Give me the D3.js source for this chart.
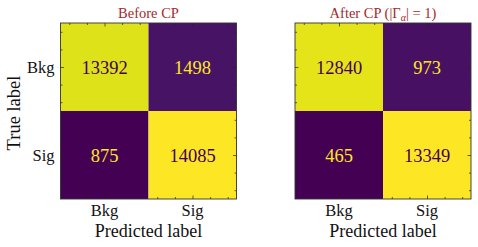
<!DOCTYPE html>
<html>
<head>
<meta charset="utf-8">
<script src="https://cdn.jsdelivr.net/npm/d3@7"></script>
<style>
  body { margin: 0; background: #fff; }
</style>
</head>
<body>
<svg id="fig" width="478" height="247"></svg>
<script>
// confusion matrices, rows = true label, cols = predicted label
const classes = ["Bkg", "Sig"];
const beforeCP = [[13392, 1498], [875, 14085]];
const afterCP = [[12840, 973], [465, 13349]];
const majorTicks = [0, 1];
const minorTicks = [-0.4, -0.2, 0.2, 0.4, 0.6, 0.8, 1.2, 1.4];
const serif = "Liberation Serif";

const Fig = d3.select("#fig");

function confusion_plot(matrix, x0, title, showY) {
    const size = 176, top = 23;
    const xScale = d3.scaleLinear().domain([-0.5, 1.5]).range([x0, x0 + size]);
    const yScale = d3.scaleLinear().domain([-0.5, 1.5]).range([top, top + size]);

    const flat = matrix.flatMap((row, i) => row.map((v, j) => ({ i, j, v })));
    const vmin = d3.min(flat, d => d.v), vmax = d3.max(flat, d => d.v);
    const color = d3.scaleSequential(d3.interpolateViridis).domain([vmin, vmax]);
    const thresh = (vmin + vmax) / 2;

    const g = Fig.append("g");

    // cells
    g.selectAll(".cell")
        .data(flat)
        .join("rect")
        .attr("x", d => xScale(d.j - 0.5))
        .attr("y", d => yScale(d.i - 0.5))
        .attr("width", xScale(1) - xScale(0))
        .attr("height", yScale(1) - yScale(0))
        .attr("fill", d => color(d.v));

    // counts
    g.selectAll(".count")
        .data(flat)
        .join("text")
        .attr("x", d => xScale(d.j))
        .attr("y", d => yScale(d.i) + 6.5)
        .attr("text-anchor", "middle")
        .style("font-family", serif)
        .style("font-size", "18.5px")
        .attr("fill", d => d.v < thresh ? color(vmax) : color(vmin))
        .text(d => d.v);

    // inward ticks on all four sides
    const axes = [
        [d3.axisBottom(xScale), `translate(0,${top + size})`],
        [d3.axisTop(xScale), `translate(0,${top})`],
        [d3.axisLeft(yScale), `translate(${x0},0)`],
        [d3.axisRight(yScale), `translate(${x0 + size},0)`]
    ];
    axes.forEach(([ax, tr]) => {
        g.append("g").attr("transform", tr)
            .call(ax.tickValues(minorTicks).tickSize(-2).tickFormat(""))
            .call(s => s.select(".domain").remove());
        g.append("g").attr("transform", tr)
            .call(ax.tickValues(majorTicks).tickSize(-3.5).tickFormat(""))
            .call(s => s.select(".domain").remove());
    });
    g.selectAll(".tick line").attr("stroke", "#222").attr("stroke-width", 0.7);

    // frame
    g.append("rect")
        .attr("x", x0).attr("y", top)
        .attr("width", size).attr("height", size)
        .attr("fill", "none").attr("stroke", "#333").attr("stroke-width", 0.9);

    // tick labels
    g.selectAll(".xlab")
        .data(classes)
        .join("text")
        .attr("x", (d, i) => xScale(i))
        .attr("y", top + size + 16.5)
        .attr("text-anchor", "middle")
        .style("font-family", serif)
        .style("font-size", "16.5px")
        .attr("fill", "#111")
        .text(d => d);

    if (showY) {
        g.selectAll(".ylab")
            .data(classes)
            .join("text")
            .attr("x", x0 - 6)
            .attr("y", (d, i) => yScale(i) + 5.5)
            .attr("text-anchor", "end")
            .style("font-family", serif)
            .style("font-size", "16.5px")
            .attr("fill", "#111")
            .text(d => d);

        g.append("text")
            .attr("transform", `translate(20,${top + size / 2 + 2}) rotate(-90)`)
            .attr("text-anchor", "middle")
            .style("font-family", serif)
            .style("font-size", "18.5px")
            .attr("fill", "#111")
            .text("True label");
    }

    g.append("text")
        .attr("x", x0 + size / 2)
        .attr("y", top + size + 37.5)
        .attr("text-anchor", "middle")
        .style("font-family", serif)
        .style("font-size", "18px")
        .attr("fill", "#111")
        .text("Predicted label");

    // title
    const t = g.append("text")
        .attr("x", x0 + size / 2)
        .attr("y", 17.5)
        .attr("text-anchor", "middle")
        .style("font-family", serif)
        .style("font-size", "14.5px")
        .attr("fill", "#a52a2a");
    title(t);
}

confusion_plot(beforeCP, 60.5, t => t.text("Before CP"), true);
confusion_plot(afterCP, 295, t => {
    t.append("tspan").text("After CP (|Γ");
    t.append("tspan").attr("baseline-shift", "-25%").style("font-size", "10px")
        .style("font-style", "italic").text("α");
    t.append("tspan").text("| = 1)");
}, false);
</script>
</body>
</html>
